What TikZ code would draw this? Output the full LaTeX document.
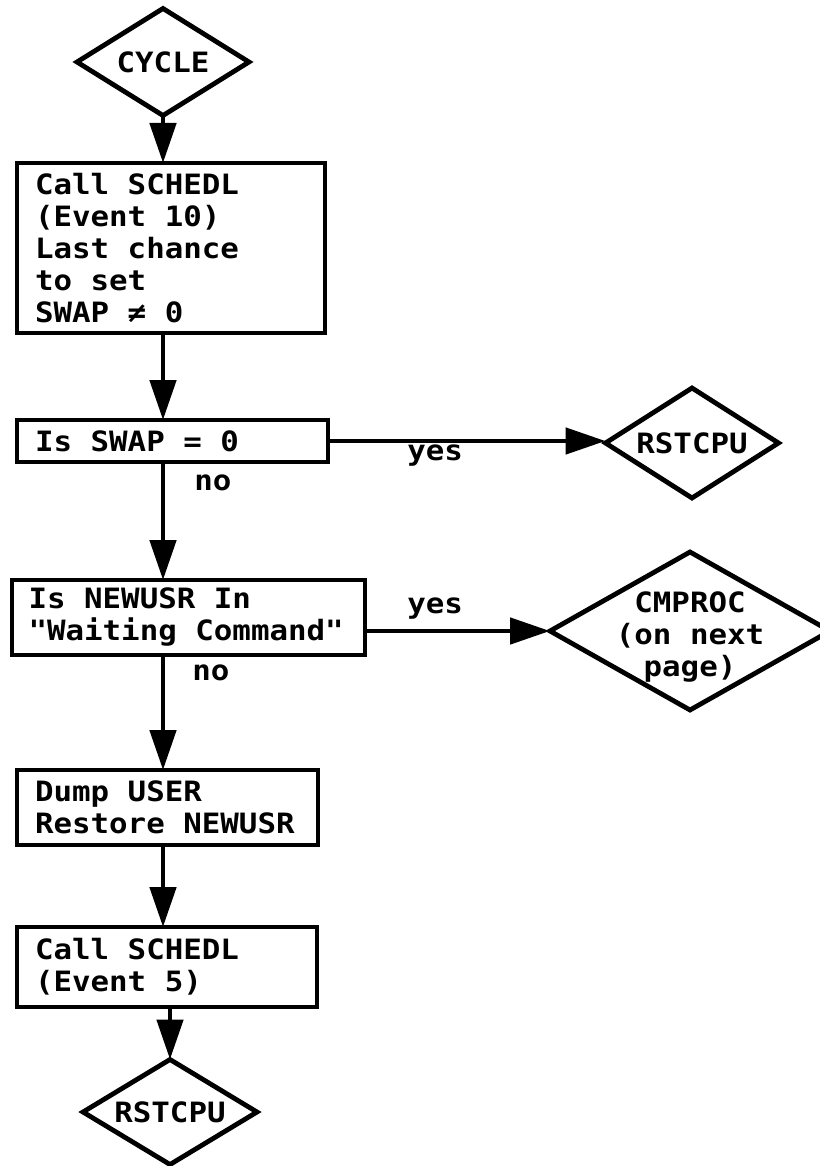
\documentclass[tikz,border=0pt]{standalone}
\usepackage{fontspec}
\usetikzlibrary{shapes.geometric,arrows.meta}
\newfontfamily\flowfont[FakeStretch=1.1]{DejaVu Sans Mono Bold}
\newcommand\flowtext{\flowfont\fontsize{14pt}{16pt}\selectfont}

\begin{document}
\begin{tikzpicture}
[
  x=0.5pt, y=-0.5pt,
  >={Triangle[length=20pt,width=13pt]},
  line width=2.4pt,
  txt/.style = {font=\flowtext},
  box/.style = {draw, txt, align=flush left, inner xsep=9pt, inner ysep=0pt, outer sep=0pt, anchor=north west},
  term/.style = {draw, diamond, txt, inner sep=0pt, outer sep=0pt, aspect=1.6},
  lbl/.style = {txt, inner sep=0pt, anchor=base west},
]

\useasboundingbox (0,0) rectangle (819,1166);

\coordinate (col) at (163,0);

\node (CYC) at (163,62) [term, minimum width=86pt, minimum height=53.5pt] {CYCLE};
\node (B1) at (17,163) [box, text width=136pt, minimum height=85pt] {Call SCHEDL\\(Event 10)\\Last chance\\to set\\SWAP ≠ 0};
\node (B2) at (17,420) [box, text width=137.5pt, minimum height=21pt] {Is SWAP = 0};
\node (RST1) at (692,443) [term, minimum width=86.5pt, minimum height=55pt] {RSTCPU};
\node (B3) at (12,580) [box, text width=160pt, inner xsep=8.25pt, minimum height=37.5pt] {Is NEWUSR In\\"Waiting Command"};
\node (CMP) at (690,631) [term, minimum width=140pt, minimum height=79pt] {};
\node (CMT) at ([yshift=-3pt]CMP.center) [txt, align=flush center, inner sep=0pt] {CMPROC\\(on next\\page)};
\node (B4) at (17,770) [box, text width=132.5pt, minimum height=37.5pt] {Dump USER\\Restore NEWUSR};
\node (B5) at (17,927) [box, text width=132pt, minimum height=40pt] {Call SCHEDL\\(Event 5)};
\node (RST2) at (170,1112) [term, minimum width=87pt, minimum height=52.5pt] {RSTCPU};

\node (Y1) at (405,460) [lbl] {yes};
\node (N1) at (192,490) [lbl] {no};
\node (Y2) at (405,613) [lbl] {yes};
\node (N2) at (190,680) [lbl] {no};

\draw[->] (CYC.south) -- (col |- B1.north);
\draw[->] (col |- B1.south) -- (col |- B2.north);
\draw[->] (col |- B2.south) -- (col |- B3.north);
\draw[->] (col |- B3.south) -- (col |- B4.north);
\draw[->] (col |- B4.south) -- (col |- B5.north);
\draw[->] (RST2.north |- B5.south) -- (RST2.north);
\draw[->] (B2.east) -- (B2.east -| RST1.west);
\draw[->] (B3.east |- CMP.west) -- (CMP.west);

\end{tikzpicture}
\end{document}
